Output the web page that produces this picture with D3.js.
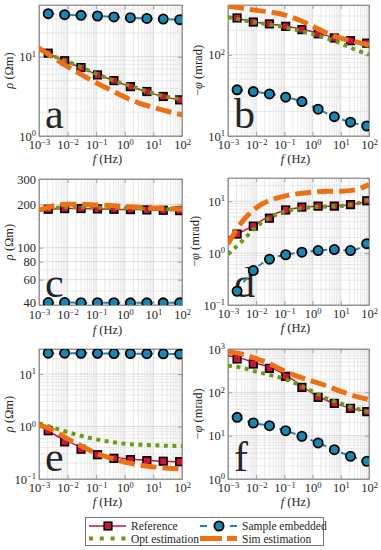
<!DOCTYPE html>
<html>
<head>
<meta charset="utf-8">
<script src="https://cdn.jsdelivr.net/npm/d3@7"></script>
<style>
body { margin: 0; background: #fff; }
text { font-family: "Liberation Serif", "Times New Roman", serif; fill: #262626; }
</style>
</head>
<body>
<svg width="381" height="550"></svg>
<script>
// frequencies (Hz)
var freqMarks = [0.0021, 0.0079, 0.0295, 0.111, 0.417, 1.57, 5.9, 22.1, 83];
var freqLine = [0.001, 0.00316, 0.01, 0.0316, 0.1, 0.316, 1, 3.16, 10, 31.6, 100];

// a: rho
var refLineA = [13, 10.3, 8.6, 7.2, 6.0, 5.2, 4.45, 3.9, 3.4, 3.05, 2.8];
var refMarkA = [11.1, 8.9, 7.3, 5.9, 5.0, 4.2, 3.64, 3.15, 2.86];
var optA = [12.5, 10.2, 8.7, 7.3, 6.1, 5.2, 4.5, 3.95, 3.45, 3.1, 2.9];
var simA = [12.9, 9.8, 7.5, 5.9, 4.7, 3.8, 3.1, 2.6, 2.3, 2.05, 1.85];
var sampleA = [35, 34, 33.3, 32.7, 31.8, 31.1, 30.5, 29.9, 29.4];

// b: -phi
var refLineB = [298, 272, 252, 240, 226, 210, 192, 172, 157, 146, 137];
var refMarkB = [284, 253, 240, 224, 204, 181, 161, 149, 139];
var optB = [290, 268, 250, 235, 218, 200, 180, 160, 138, 116, 100];
var simB = [395, 375, 352, 335, 310, 270, 225, 185, 160, 145, 132];
var sampleB = [37, 35.2, 33, 30.1, 26.5, 21.4, 17.3, 14.8, 13.3];

// c: rho
var refLineC = [183, 186, 187, 187, 186, 185, 184, 184, 183, 182, 181];
var refMarkC = [185, 187, 187, 186, 185, 184, 183, 182, 181];
var optC = [182, 188, 191, 191, 190, 189, 188, 187, 186, 185, 184];
var simC = [183, 195, 200, 200, 198, 196, 193, 191, 189, 187, 186];
var sampleC = [41.6, 41.6, 41.5, 41.5, 41.5, 41.4, 41.4, 41.4, 41.4];

// d: -phi
var refLineD = [2.05, 2.6, 3.7, 5.2, 6.6, 7.5, 7.9, 8.0, 8.2, 8.8, 10.5];
var refMarkD = [2.33, 3.31, 4.71, 6.79, 7.71, 8.04, 8.04, 8.6, 10.2];
var optD = [0.95, 1.7, 3.2, 4.9, 6.3, 7.2, 7.7, 7.9, 8.1, 8.8, 10.8];
var simD = [1.5, 4.0, 7.5, 10.5, 12.5, 14, 15, 15.5, 15.5, 16.5, 21];
var sampleD = [0.184, 0.461, 0.765, 0.93, 1.04, 1.12, 1.17, 1.12, 1.52];

// e: rho
var refLineE = [1.1, 0.72, 0.52, 0.40, 0.32, 0.27, 0.245, 0.232, 0.222, 0.216, 0.212];
var refMarkE = [0.83, 0.51, 0.37, 0.29, 0.248, 0.234, 0.224, 0.218, 0.214];
var optE = [1.15, 0.95, 0.78, 0.66, 0.57, 0.51, 0.47, 0.45, 0.44, 0.43, 0.425];
var simE = [1.06, 0.85, 0.58, 0.42, 0.31, 0.25, 0.21, 0.185, 0.17, 0.16, 0.155];
var sampleE = [25, 25, 24.8, 24.8, 24.6, 24.5, 24.4, 24.3, 24];

// f: -phi
var refLineF = [700, 600, 470, 380, 260, 160, 95, 65, 50, 41, 35];
var refMarkF = [588, 451, 358, 234, 130, 76.7, 55.7, 42.7, 35.8];
var optF = [412, 370, 300, 250, 205, 150, 105, 72, 55, 43, 35];
var simF = [850, 760, 600, 450, 310, 230, 180, 140, 105, 82, 68];
var sampleF = [26.5, 19.6, 17, 13, 9.66, 6.78, 4.75, 3.34, 2.56];

var xTicks = [1e-3, 1e-2, 1e-1, 1e0, 1e1, 1e2];
var legendNames = ["Reference", "Sample embedded", "Opt estimation", "Sim estimation"];

var colRef = "#cf1240", colOpt = "#6b9a14", colSim = "#ec7014", colSample = "#1b86ae";

var panels = [
  {id: "a", x0: 39, x1: 182, y0: 5, y1: 136, dom: [1, 45], ticks: [1, 10], lab: "rho",
   ref: refLineA, refMark: refMarkA, opt: optA, sim: simA, sample: sampleA},
  {id: "b", x0: 228, x1: 369, y0: 5, y1: 136, dom: [10, 410], ticks: [10, 100], lab: "phi",
   ref: refLineB, refMark: refMarkB, opt: optB, sim: simB, sample: sampleB},
  {id: "c", x0: 39, x1: 182, y0: 179, y1: 305, dom: [40, 300], ticks: [40, 60, 80, 100, 200, 300], lab: "rho", plain: true,
   ref: refLineC, refMark: refMarkC, opt: optC, sim: simC, sample: sampleC},
  {id: "d", x0: 228, x1: 369, y0: 178, y1: 305, dom: [0.1, 28], ticks: [0.1, 1, 10], lab: "phi",
   ref: refLineD, refMark: refMarkD, opt: optD, sim: simD, sample: sampleD},
  {id: "e", x0: 39, x1: 182, y0: 349, y1: 479, dom: [0.1, 30], ticks: [0.1, 1, 10], lab: "rho",
   ref: refLineE, refMark: refMarkE, opt: optE, sim: simE, sample: sampleE},
  {id: "f", x0: 228, x1: 369, y0: 349, y1: 479, dom: [1, 1000], ticks: [1, 10, 100, 1000], lab: "phi",
   ref: refLineF, refMark: refMarkF, opt: optF, sim: simF, sample: sampleF}
];

var svg = d3.select("svg");

panels.forEach(drawPanel);
drawLegend();

function logValues(dom) {
  var out = [];
  var lo = Math.floor(Math.log10(dom[0])), hi = Math.ceil(Math.log10(dom[1]));
  for (var e = lo; e <= hi; e++) {
    for (var k = 1; k <= 9; k++) {
      var v = +(k * Math.pow(10, e)).toPrecision(3);
      if (v >= dom[0] * 0.999 && v <= dom[1] * 1.001) out.push(v);
    }
  }
  return out;
}

function powLabel(sel, v) {
  var e = Math.round(Math.log10(v));
  sel.text("10");
  sel.append("tspan").attr("dy", "-0.5em").attr("font-size", "8.5px")
    .text(e < 0 ? "\u2212" + (-e) : "" + e);
}

function drawPanel(p) {
  var x = d3.scaleLog().domain([1e-3, 1e2]).range([p.x0, p.x1]);
  var y = d3.scaleLog().domain(p.dom).range([p.y1, p.y0]);
  var w = p.x1 - p.x0, h = p.y1 - p.y0;
  var g = svg.append("g");

  g.append("clipPath").attr("id", "clip-" + p.id)
    .append("rect").attr("x", p.x0).attr("y", p.y0).attr("width", w).attr("height", h);

  // grid
  var xGrid = logValues([1e-3, 1e2]);
  var yGrid = logValues(p.dom);
  g.selectAll(".gx").data(xGrid).enter().append("line")
    .attr("x1", function(d) { return x(d); }).attr("x2", function(d) { return x(d); })
    .attr("y1", p.y0).attr("y2", p.y1)
    .attr("stroke", function(d) { return xTicks.indexOf(d) >= 0 ? "#cfcfcf" : "#e0e0e0"; })
    .attr("stroke-width", 0.7);
  g.selectAll(".gy").data(yGrid).enter().append("line")
    .attr("x1", p.x0).attr("x2", p.x1)
    .attr("y1", function(d) { return y(d); }).attr("y2", function(d) { return y(d); })
    .attr("stroke", function(d) { return p.ticks.indexOf(d) >= 0 ? "#cfcfcf" : "#e0e0e0"; })
    .attr("stroke-width", 0.7);

  // axes
  var xAxis = d3.axisBottom(x).tickValues(xTicks).tickSizeInner(-4).tickSizeOuter(0).tickPadding(p.plain ? 5 : 4);
  var gx = g.append("g").attr("transform", "translate(0," + p.y1 + ")").call(xAxis);
  gx.selectAll(".tick text").attr("font-size", "12.5px").attr("fill", "#262626")
    .each(function(d) { powLabel(d3.select(this), d); });

  var yAxis = d3.axisLeft(y).tickValues(p.ticks).tickSizeInner(-4).tickSizeOuter(0).tickPadding(3);
  var gy = g.append("g").attr("transform", "translate(" + p.x0 + ",0)").call(yAxis);
  gy.selectAll(".tick text").attr("font-size", "12.5px").attr("fill", "#262626")
    .each(function(d) {
      if (p.plain) d3.select(this).attr("dy", d === 40 ? "0.1em" : "0.32em").text(d);
      else powLabel(d3.select(this), d);
    });

  g.append("g").attr("transform", "translate(0," + p.y0 + ")")
    .call(d3.axisTop(x).tickValues(xTicks).tickSizeInner(-4).tickSizeOuter(0).tickFormat(""));
  g.append("g").attr("transform", "translate(" + p.x1 + ",0)")
    .call(d3.axisRight(y).tickValues(p.ticks).tickSizeInner(-4).tickSizeOuter(0).tickFormat(""));
  g.selectAll(".domain, .tick line").attr("stroke", "#8c8c8c").attr("stroke-width", 0.8);
  g.append("rect").attr("x", p.x0).attr("y", p.y0).attr("width", w).attr("height", h)
    .attr("fill", "none").attr("stroke", "#8c8c8c").attr("stroke-width", 0.8);

  // axis labels
  var ly = g.append("text").attr("text-anchor", "middle").attr("font-size", "12.5px")
    .attr("transform", "translate(" + (p.x0 - (p.id === "d" ? 29 : 26)) + "," + (p.y0 + h / 2) + ") rotate(-90)");
  if (p.lab === "rho") {
    ly.append("tspan").attr("font-style", "italic").text("\u03c1");
    ly.append("tspan").text(" (\u03a9m)");
  } else {
    ly.append("tspan").text("\u2212");
    ly.append("tspan").attr("font-style", "italic").text("\u03c6");
    ly.append("tspan").text(" (mrad)");
  }
  var lx = g.append("text").attr("text-anchor", "middle").attr("font-size", "12.5px")
    .attr("x", p.x0 + w / 2 - 3).attr("y", p.y1 + (p.plain ? 28.5 : 27));
  lx.append("tspan").attr("font-style", "italic").text("f");
  lx.append("tspan").text("  (Hz)");

  // panel letter
  g.append("text").attr("x", p.x0 + 6).attr("y", p.y1 - 8)
    .attr("font-size", "42px").attr("fill", "#000").text(p.id);

  var plot = g.append("g").attr("clip-path", "url(#clip-" + p.id + ")");
  var line = d3.line()
    .x(function(d) { return x(d[0]); })
    .y(function(d) { return y(d[1]); })
    .curve(d3.curveMonotoneX);

  // reference
  plot.append("path").datum(d3.zip(freqLine, p.ref)).attr("d", line)
    .attr("fill", "none").attr("stroke", colRef).attr("stroke-width", 1.5);
  plot.selectAll(".sq").data(d3.zip(freqMarks, p.refMark)).enter().append("rect")
    .attr("x", function(d) { return x(d[0]) - 3.8; })
    .attr("y", function(d) { return y(d[1]) - 3.8; })
    .attr("width", 7.6).attr("height", 7.6)
    .attr("fill", colRef).attr("stroke", "#000").attr("stroke-width", 1.6);

  // opt estimation
  plot.append("path").datum(d3.zip(freqLine, p.opt)).attr("d", line)
    .attr("fill", "none").attr("stroke", colOpt).attr("stroke-width", 4)
    .attr("stroke-dasharray", "4,4.5");

  // sim estimation
  plot.append("path").datum(d3.zip(freqLine, p.sim)).attr("d", line)
    .attr("fill", "none").attr("stroke", colSim).attr("stroke-width", 5)
    .attr("stroke-dasharray", "16,6");

  // sample embedded
  var sData = d3.zip(freqMarks, p.sample);
  plot.append("path").datum(sData).attr("d", line)
    .attr("fill", "none").attr("stroke", colSample).attr("stroke-width", 2)
    .attr("stroke-dasharray", "6,5");
  plot.selectAll(".ci").data(sData).enter().append("circle")
    .attr("cx", function(d) { return x(d[0]); })
    .attr("cy", function(d) { return y(d[1]); })
    .attr("r", 4.6)
    .attr("fill", colSample).attr("stroke", "#000").attr("stroke-width", 1.8);
}

function drawLegend() {
  var g = svg.append("g");
  g.append("rect").attr("x", 85.5).attr("y", 517.5).attr("width", 238).attr("height", 28)
    .attr("fill", "#fff").attr("stroke", "#555").attr("stroke-width", 0.8);
  var items = [
    {name: legendNames[0], x: 89, y: 526},
    {name: legendNames[1], x: 200, y: 526},
    {name: legendNames[2], x: 89, y: 538.5},
    {name: legendNames[3], x: 200, y: 538.5}
  ];
  items.forEach(function(it, i) {
    var x1 = it.x, x2 = it.x + 37, mid = it.x + 19;
    if (i === 0) {
      g.append("line").attr("x1", x1).attr("x2", x2).attr("y1", it.y).attr("y2", it.y)
        .attr("stroke", colRef).attr("stroke-width", 1.5);
      g.append("rect").attr("x", mid - 3.8).attr("y", it.y - 3.8).attr("width", 7.6).attr("height", 7.6)
        .attr("fill", colRef).attr("stroke", "#000").attr("stroke-width", 1.6);
    } else if (i === 1) {
      g.append("line").attr("x1", x1).attr("x2", x2).attr("y1", it.y).attr("y2", it.y)
        .attr("stroke", colSample).attr("stroke-width", 2).attr("stroke-dasharray", "7,23");
      g.append("circle").attr("cx", mid).attr("cy", it.y).attr("r", 4.6)
        .attr("fill", colSample).attr("stroke", "#000").attr("stroke-width", 1.8);
    } else if (i === 2) {
      g.append("line").attr("x1", x1).attr("x2", x2).attr("y1", it.y).attr("y2", it.y)
        .attr("stroke", colOpt).attr("stroke-width", 4).attr("stroke-dasharray", "4,6.8");
    } else {
      g.append("line").attr("x1", x1).attr("x2", x2).attr("y1", it.y).attr("y2", it.y)
        .attr("stroke", colSim).attr("stroke-width", 5).attr("stroke-dasharray", "22,5");
    }
    g.append("text").attr("x", it.x + 42).attr("y", it.y + 4)
      .attr("font-size", "11.5px").text(it.name);
  });
}
</script>
</body>
</html>
